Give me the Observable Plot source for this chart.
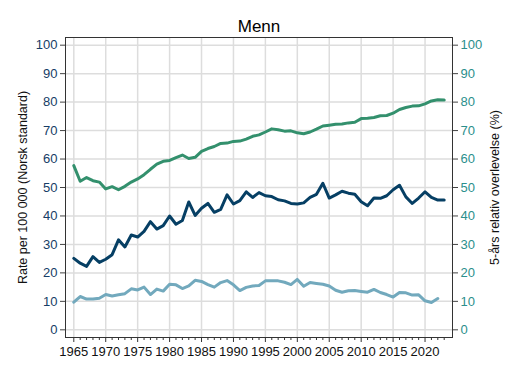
<!DOCTYPE html>
<html>
<head>
<meta charset="utf-8">
<script src="https://cdn.jsdelivr.net/npm/d3@7"></script>
<script src="https://cdn.jsdelivr.net/npm/@observablehq/plot@0.6"></script>
<style>
  html, body { margin: 0; padding: 0; background: #fff; }
  #chart svg { display: block; }
</style>
</head>
<body>
<div id="chart"></div>
<script>
const title = "Menn";
const leftLabel = "Rate per 100 000 (Norsk standard)";
const rightLabel = "5-års relativ overlevelse (%)";

const years = d3.range(1965, 2024);
const xTickLabels = [1965, 1970, 1975, 1980, 1985, 1990, 1995, 2000, 2005, 2010, 2015, 2020];
const yTicks = [0, 10, 20, 30, 40, 50, 60, 70, 80, 90, 100];

// Incidence (dark blue), 1965–2023
const incidence = [25.1, 23.4, 22.3, 25.7, 23.7, 24.8, 26.4, 31.6, 29.1, 33.3,
  32.6, 34.6, 38.0, 35.4, 36.6, 40.0, 37.1, 38.4, 44.9, 40.2,
  42.7, 44.4, 41.3, 42.3, 47.4, 44.2, 45.4, 48.5, 46.5, 48.2,
  47.1, 46.8, 45.7, 45.3, 44.4, 44.2, 44.6, 46.5, 47.6, 51.5,
  46.3, 47.4, 48.7, 48.0, 47.6, 45.0, 43.6, 46.3, 46.2, 47.1,
  49.2, 50.8, 46.7, 44.4, 46.3, 48.5, 46.5, 45.6, 45.6];

// Mortality (light blue), 1965–2022
const mortality = [9.7, 11.7, 10.8, 10.8, 11.1, 12.4, 11.9, 12.3, 12.7, 14.4,
  14.0, 15.0, 12.4, 14.3, 13.6, 16.0, 15.8, 14.5, 15.4, 17.4,
  17.0, 15.9, 15.0, 16.6, 17.3, 15.8, 13.8, 14.9, 15.4, 15.6,
  17.2, 17.2, 17.2, 16.7, 15.9, 17.7, 15.3, 16.6, 16.3, 16.0,
  15.4, 13.9, 13.2, 13.7, 13.8, 13.5, 13.2, 14.2, 13.1, 12.4,
  11.5, 13.1, 13.0, 12.2, 12.3, 10.2, 9.6, 11.0];

// 5-year relative survival (green), 1965–2023
const survival = [57.7, 52.2, 53.5, 52.4, 51.9, 49.5, 50.3, 49.2, 50.4, 51.9,
  53.0, 54.5, 56.4, 58.2, 59.2, 59.5, 60.5, 61.4, 60.2, 60.6,
  62.7, 63.7, 64.4, 65.5, 65.6, 66.2, 66.3, 67.0, 68.0, 68.5,
  69.5, 70.6, 70.3, 69.8, 69.9, 69.2, 68.9, 69.5, 70.5, 71.6,
  71.9, 72.2, 72.3, 72.7, 72.9, 74.2, 74.3, 74.6, 75.2, 75.3,
  76.1, 77.4, 78.1, 78.6, 78.7, 79.4, 80.4, 80.8, 80.7];

const toRows = (vals) => vals.map((v, i) => ({year: years[i], value: v}));

const chart = Plot.plot({
  width: 517,
  height: 376,
  marginLeft: 65,
  marginRight: 65,
  marginTop: 37,
  marginBottom: 39,
  style: {fontFamily: "Arial, 'Liberation Sans', sans-serif", fontSize: "13px", background: "#fff"},
  x: {domain: [1963.7, 2024.3]},
  y: {domain: [-2.7, 102.7]},
  marks: [
    Plot.gridX(xTickLabels, {stroke: "#dddddd", strokeOpacity: 1, strokeWidth: 1.5}),
    Plot.gridY(yTicks, {stroke: "#dddddd", strokeOpacity: 1, strokeWidth: 1.5}),
    Plot.line(toRows(mortality), {x: "year", y: "value", stroke: "#72a9bd", strokeWidth: 3}),
    Plot.line(toRows(incidence), {x: "year", y: "value", stroke: "#063f64", strokeWidth: 3}),
    Plot.line(toRows(survival), {x: "year", y: "value", stroke: "#33906d", strokeWidth: 3}),
    Plot.frame({stroke: "#333", strokeWidth: 1}),
    Plot.axisX(years.filter(y => !xTickLabels.includes(y)), {tickSize: 3, tickFormat: () => "", stroke: "#333", label: null}),
    Plot.axisX(xTickLabels, {tickSize: 5, tickPadding: 4, tickFormat: d => String(d), stroke: "#333", fill: "#111", label: null, fontSize: 13}),
    Plot.axisY(yTicks, {anchor: "left", tickSize: 5, tickPadding: 3, stroke: "#444", color: "#163d66", label: null, fontSize: 13}),
    Plot.axisY(yTicks, {anchor: "right", tickSize: 5, tickPadding: 3, stroke: "#444", color: "#2b8f8c", label: null, fontSize: 13}),
    Plot.text([title], {frameAnchor: "top", dy: -18, fontSize: 17, fill: "#000", textAnchor: "middle"}),
    Plot.text([leftLabel], {frameAnchor: "left", dx: -43, rotate: -90, textAnchor: "middle", fontSize: 12.5, fill: "#111"}),
    Plot.text([rightLabel], {frameAnchor: "right", dx: 42, rotate: -90, textAnchor: "middle", fontSize: 12.5, fill: "#111"})
  ]
});

d3.select(chart).selectAll("g[aria-label$='tick label']").attr("font-size", 13).style("font-size", "13px");

document.getElementById("chart").appendChild(chart);
</script>
</body>
</html>
